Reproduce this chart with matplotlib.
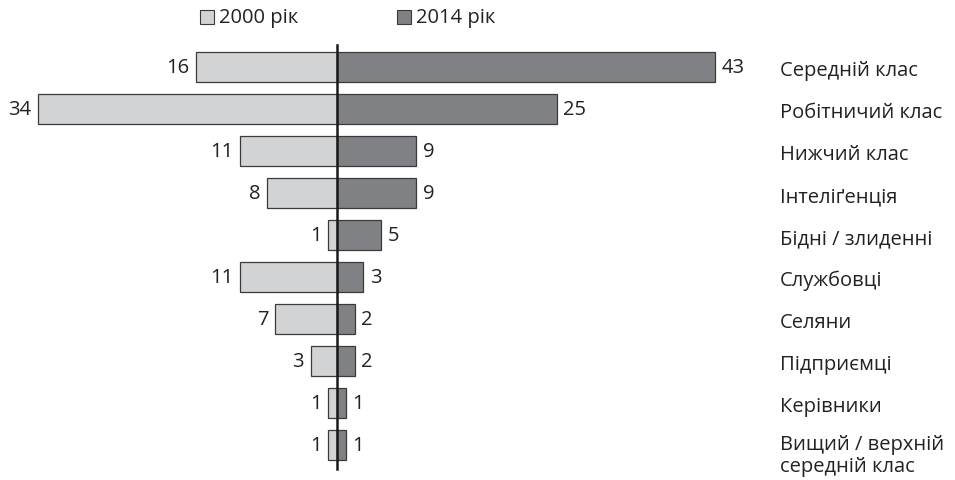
import matplotlib
matplotlib.use("Agg")
import matplotlib.pyplot as plt
from matplotlib.patches import Rectangle

plt.rcParams['font.family'] = ['Open Sans', 'DejaVu Sans']

categories = ["Середній клас", "Робітничий клас", "Нижчий клас", "Інтеліґенція",
              "Бідні / злиденні", "Службовці", "Селяни", "Підприємці", "Керівники",
              "Вищий / верхній\nсередній клас"]
values_2000 = [16, 34, 11, 8, 1, 11, 7, 3, 1, 1]
values_2014 = [43, 25, 9, 9, 5, 3, 2, 2, 1, 1]
series_labels = ["2000 рік", "2014 рік"]

light = "#d2d3d5"
dark = "#808184"
edge = "#3a3a3a"

W, H = 955, 481
fig = plt.figure(figsize=(W / 100, H / 100), dpi=100)
ax = fig.add_axes([0, 0, 1, 1])
x0_px, scale = 337, 8.79
row0, step = 68, 42
ax.set_xlim(-x0_px / scale, (W - x0_px) / scale)
ax.set_ylim((H - row0) / step, -row0 / step)
ax.axis('off')

ys = list(range(len(categories)))
bh = 0.72
ax.barh(ys, [-v for v in values_2000], height=bh, color=light, edgecolor=edge, linewidth=0.9, zorder=2)
ax.barh(ys, values_2014, height=bh, color=dark, edgecolor=edge, linewidth=0.9, zorder=2)
ax.plot([0, 0], [(46 - row0) / step, (470 - row0) / step], color="#1a1a1a", lw=1.8, zorder=3)

fs = 14.5
off = 0.75
txt = "#222222"
lab_x = (780 - x0_px) / scale
for y, a, b, c in zip(ys, values_2000, values_2014, categories):
    ax.text(-a - off, y, str(a), ha='right', va='center', fontsize=fs, color=txt)
    ax.text(b + off, y, str(b), ha='left', va='center', fontsize=fs, color=txt)
    if "\n" in c:
        ax.text(lab_x, y + 0.24, c, ha='left', va='center', fontsize=fs,
                color=txt, linespacing=1.1)
    else:
        ax.text(lab_x, y + 0.07, c, ha='left', va='center', fontsize=fs, color=txt)

# legend
for px, col, lab in [(200, light, series_labels[0]), (397, dark, series_labels[1])]:
    fig.patches.append(Rectangle((px / W, 1 - 25 / H), 14 / W, 14 / H, transform=fig.transFigure,
                                 facecolor=col, edgecolor=edge, linewidth=0.8))
    fig.text((px + 19) / W, 1 - 18 / H, lab, ha='left', va='center', fontsize=fs, color=txt)

fig.savefig("out.png", dpi=100)
